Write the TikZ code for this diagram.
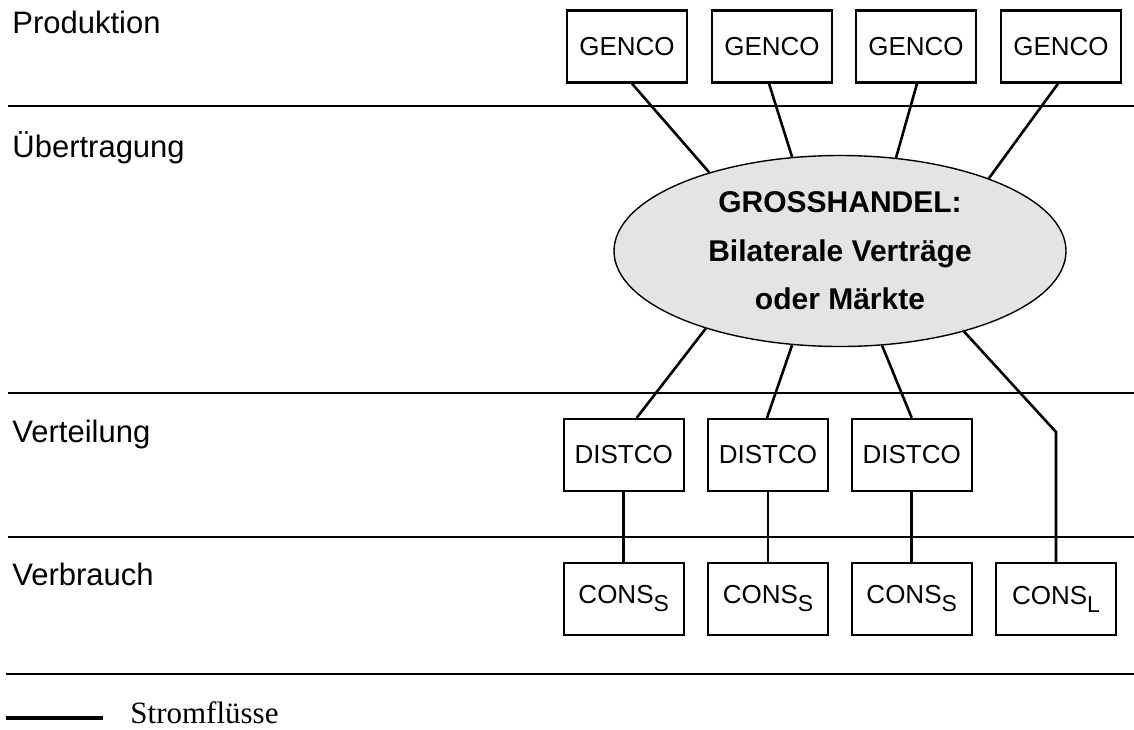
\documentclass[tikz,border=0pt]{standalone}
\usepackage{fontspec}
\setmainfont{Liberation Sans}
\newfontfamily\legendfont{Liberation Serif}
\usetikzlibrary{shapes.geometric}
\definecolor{ghgray}{RGB}{228,228,228}
\newcommand{\lowidx}[1]{\raisebox{-4pt}{\fontsize{11.5}{12}\selectfont #1}}
\tikzset{
  firm/.style={draw,line width=1.15pt,minimum width=60pt,minimum height=36pt,inner sep=0pt,font=\fontsize{13}{15}\selectfont},
  layer/.style={anchor=base west,inner sep=0pt,font=\fontsize{15.5}{18}\selectfont},
  flow/.style={line width=1.3pt},
  border/.style={line width=1.3pt}
}
\begin{document}
\begin{tikzpicture}[x=0.5pt,y=-0.5pt]
	\useasboundingbox (0,0) rectangle (1134,729);
	% Ebenen
	\draw[border] (8,106) -- (1134,106);
	\draw[border] (8,393) -- (1134,393);
	\draw[border] (8,537) -- (1134,537);
	\draw[border] (6,674) -- (1134,674);
	\node[layer] (prod) at (12,33) {Produktion};
	\node[layer] (uebt) at (12,157) {Übertragung};
	\node[layer] (vert) at (12,442) {Verteilung};
	\node[layer] (verb) at (12,585) {Verbrauch};
	% Erzeuger
	\node[firm] (g1) at (627,46.5) {GENCO};
	\node[firm] (g2) at (772,46.5) {GENCO};
	\node[firm] (g3) at (916,46.5) {GENCO};
	\node[firm] (g4) at (1061,46.5) {GENCO};
	% Grosshandel
	\node[ellipse,draw,fill=ghgray,line width=0.7pt,minimum width=226pt,minimum height=95.5pt,inner sep=0pt,align=center,font=\bfseries\fontsize{15}{24.25}\selectfont] (gh) at (840,251) {GROSSHANDEL:\\Bilaterale Verträge\\oder Märkte};
	% Verteiler und Verbraucher
	\node[firm] (d1) at (623.7,455) {DISTCO};
	\node[firm] (d2) at (768,455) {DISTCO};
	\node[firm] (d3) at (911.7,455) {DISTCO};
	\node[firm] (c1) at (623.7,599) {CONS\lowidx{S}};
	\node[firm] (c2) at (768,599) {CONS\lowidx{S}};
	\node[firm] (c3) at (911.7,599) {CONS\lowidx{S}};
	\node[firm] (c4) at (1056,599) {CONS\lowidx{L}};
	\coordinate (kink) at (1056,432);
	% Stromfluesse
	\draw[flow] ([xshift=2.5pt]g1.south) -- (gh.149);
	\draw[flow] ([xshift=-1.5pt]g2.south) -- (gh.117.5);
	\draw[flow] ([xshift=0.5pt]g3.south) -- (gh.59);
	\draw[flow] ([xshift=-1.5pt]g4.south) -- (gh.26.4);
	\draw[flow] (gh.210.6) -- ([xshift=6.5pt]d1.north);
	\draw[flow] (gh.243) -- ([xshift=-0.5pt]d2.north);
	\draw[flow] (gh.294.6) -- (d3.north);
	\draw[flow] (gh.327.8) -- (kink) -- (c4.north);
	\draw[flow] (d1.south) -- (c1.north);
	\draw[flow] (d2.south) -- (c2.north);
	\draw[flow] (d3.south) -- (c3.north);
	% Legende
	\coordinate (lgA) at (6,718);
	\coordinate (lgB) at (103,718);
	\draw[line width=2pt] (lgA) -- (lgB);
	\node[anchor=base west,inner sep=0pt,font=\legendfont\fontsize{15.5}{18}\selectfont] (lgtext) at (130,723) {Stromflüsse};
\end{tikzpicture}
\end{document}
